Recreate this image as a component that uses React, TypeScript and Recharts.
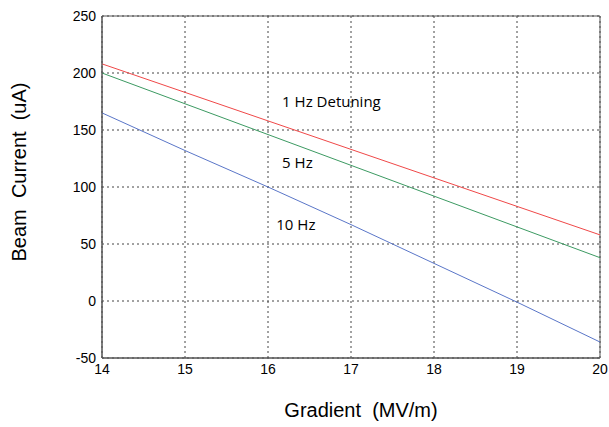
import React from 'react';
import {
  LineChart,
  Line,
  XAxis,
  YAxis,
  CartesianGrid,
  ReferenceArea,
  ReferenceDot,
} from 'recharts';

const gradient = [14, 15, 16, 17, 18, 19, 20];
const hz1 = [208, 183, 158, 133, 108, 83, 58];
const hz5 = [200, 173, 146, 119, 92, 65, 38];
const hz10 = [165, 132, 100, 67, 33, -1, -36];

const xTicks = [14, 15, 16, 17, 18, 19, 20];
const yTicks = [-50, 0, 50, 100, 150, 200, 250];

const notes = [
  { x: 16.17, y: 175, text: '1 Hz Detuning' },
  { x: 16.17, y: 121, text: '5 Hz' },
  { x: 16.1, y: 67, text: '10 Hz' },
];

const data = gradient.map((g, i) => ({ g, hz1: hz1[i], hz5: hz5[i], hz10: hz10[i] }));

const tickStyle = { fontSize: 14, fontFamily: 'Liberation Sans, Arial, sans-serif', fill: '#000' };

const App: React.FC = () => {
  return (
    <div style={{ position: 'absolute', left: 0, top: 0, width: 609, height: 427, background: '#fff' }}>
      <LineChart width={609} height={427} data={data} margin={{ top: 16, right: 9, left: 62, bottom: 39 }}>
        <CartesianGrid stroke="#444" strokeDasharray="2 3" />
        <XAxis
          dataKey="g"
          type="number"
          domain={[14, 20]}
          ticks={xTicks}
          height={30}
          tickSize={0}
          tickMargin={6}
          tick={tickStyle}
          stroke="#555"
        />
        <YAxis
          type="number"
          domain={[-50, 250]}
          ticks={yTicks}
          width={40}
          tickSize={0}
          tickMargin={6}
          tick={tickStyle}
          stroke="#555"
        />
        <ReferenceArea x1={14} x2={20} y1={-50} y2={250} fill="none" stroke="#555" strokeWidth={1} ifOverflow="visible" />
        <Line dataKey="hz1" stroke="#f04848" strokeWidth={1} dot={false} isAnimationActive={false} />
        <Line dataKey="hz5" stroke="#3c9a62" strokeWidth={1} dot={false} isAnimationActive={false} />
        <Line dataKey="hz10" stroke="#5a76c8" strokeWidth={1} dot={false} isAnimationActive={false} />
        {notes.map((n) => (
          <ReferenceDot
            key={n.text}
            x={n.x}
            y={n.y}
            r={0}
            fill="none"
            stroke="none"
            label={{ value: n.text, position: 'right', offset: 0, fill: '#000', fontSize: 15, fontFamily: 'Open Sans, sans-serif' }}
          />
        ))}
      </LineChart>
      <div
        style={{
          position: 'absolute',
          left: 361,
          top: 410,
          transform: 'translate(-50%, -50%)',
          fontFamily: 'Liberation Sans, Arial, sans-serif',
          fontSize: 20,
          whiteSpace: 'nowrap',
        }}
      >
        Gradient &nbsp;(MV/m)
      </div>
      <div
        style={{
          position: 'absolute',
          left: 19,
          top: 172,
          transform: 'translate(-50%, -50%) rotate(-90deg)',
          fontFamily: 'Liberation Sans, Arial, sans-serif',
          fontSize: 20,
          whiteSpace: 'nowrap',
        }}
      >
        Beam &nbsp;Current &nbsp;(uA)
      </div>
    </div>
  );
};

export default App;
